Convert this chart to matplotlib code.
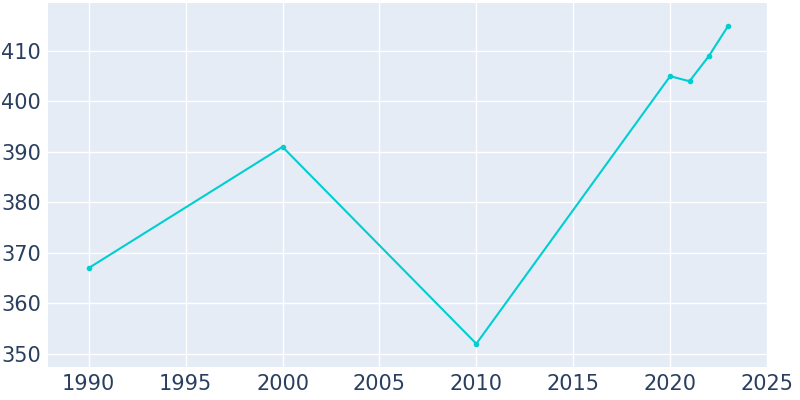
import matplotlib.pyplot as plt

years = [1990, 2000, 2010, 2020, 2021, 2022, 2023]
population = [367, 391, 352, 405, 404, 409, 415]
xticks = [1990, 1995, 2000, 2005, 2010, 2015, 2020, 2025]
yticks = [350, 360, 370, 380, 390, 400, 410]

fig = plt.figure(figsize=(8, 4), dpi=100)
ax = fig.add_axes((48/800, 33/400, 720/800, 364/400))
ax.set_facecolor('#E5ECF6')

ax.plot(years, population, color='#00CED1', linewidth=1.5,
        marker='o', markersize=3, zorder=3)

ax.set_xlim(1987.9, 2025.05)
ax.set_ylim(347.4, 419.5)
ax.set_xticks(xticks)
ax.set_yticks(yticks)
ax.grid(True, color='white', linewidth=1)
ax.set_axisbelow(True)
for s in ax.spines.values():
    s.set_visible(False)
ax.tick_params(length=0, labelsize=15, colors='#2a3f5f', pad=5)

fig.savefig('out.png', dpi=100)
